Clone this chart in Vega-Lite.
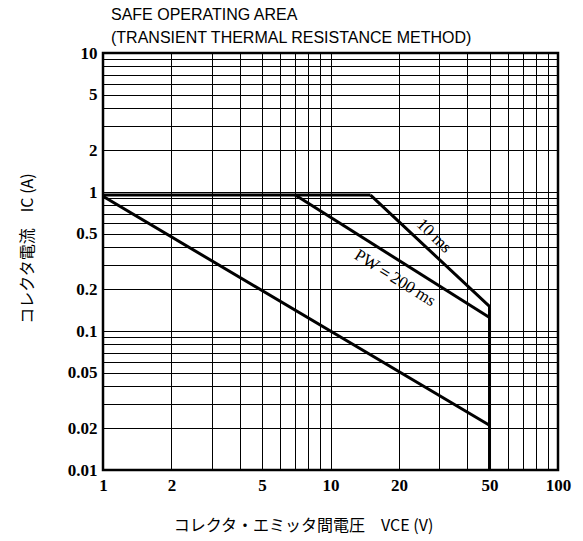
{
  "$schema": "https://vega.github.io/schema/vega-lite/v6.json",
  "autosize": {"type": "none"},
  "width": 455,
  "height": 417,
  "padding": {"left": 103, "top": 53, "right": 25, "bottom": 71},
  "background": "white",
  "config": {
    "view": {"stroke": "black", "strokeWidth": 2.5},
    "axis": {
      "grid": true,
      "gridColor": "black",
      "gridOpacity": 1,
      "gridWidth": 1,
      "ticks": false,
      "domain": false,
      "labelFont": "Liberation Serif",
      "labelFontWeight": "bold",
      "labelFontSize": 17,
      "labelColor": "black",
      "titleColor": "black",
      "titleFont": "Noto Sans CJK JP",
      "titleFontWeight": "normal",
      "titleFontSize": 16
    }
  },
  "title": {
    "text": ["SAFE OPERATING AREA", "(TRANSIENT THERMAL RESISTANCE METHOD)"],
    "anchor": "start",
    "frame": "group",
    "baseline": "bottom",
    "offset": 6,
    "dx": 8,
    "dy": 24,
    "font": "Liberation Sans",
    "fontSize": 16,
    "fontWeight": "normal",
    "lineHeight": 23,
    "color": "black"
  },
  "datasets": {
    "curves": [
      {"series": "DC", "i": 0, "vce": 1, "ic": 0.93},
      {"series": "DC", "i": 1, "vce": 50, "ic": 0.021},
      {"series": "flat", "i": 0, "vce": 1, "ic": 0.95},
      {"series": "flat", "i": 1, "vce": 15, "ic": 0.95},
      {"series": "200ms", "i": 0, "vce": 7, "ic": 0.95},
      {"series": "200ms", "i": 1, "vce": 50, "ic": 0.125},
      {"series": "10ms", "i": 0, "vce": 15, "ic": 0.95},
      {"series": "10ms", "i": 1, "vce": 50, "ic": 0.15},
      {"series": "10ms", "i": 2, "vce": 50, "ic": 0.01}
    ],
    "labels": [
      {"text": "10  ms", "vce": 28.5, "ic": 0.483, "angle": 44},
      {"text": "PW＝200  ms", "vce": 19.2, "ic": 0.24, "angle": 32}
    ]
  },
  "layer": [
    {
      "data": {"name": "curves"},
      "mark": {"type": "line", "color": "black", "strokeWidth": 3, "clip": true},
      "encoding": {
        "x": {
          "field": "vce", "type": "quantitative",
          "scale": {"type": "log", "domain": [1, 100], "nice": false},
          "axis": {
            "values": [1, 2, 3, 4, 5, 6, 7, 8, 9, 10, 20, 30, 40, 50, 60, 70, 80, 90, 100],
            "labelExpr": "indexof([1, 2, 5, 10, 20, 50, 100], datum.value) >= 0 ? datum.label : ''",
            "format": "~g",
            "labelPadding": 7,
            "labelFlush": false,
            "labelOverlap": false,
            "title": "コレクタ・エミッタ間電圧　VCE (V)",
            "titleX": 200,
            "titleY": 55,
            "titleBaseline": "middle",
            "titleAnchor": null
          }
        },
        "y": {
          "field": "ic", "type": "quantitative",
          "scale": {"type": "log", "domain": [0.01, 10], "nice": false},
          "axis": {
            "values": [0.01, 0.02, 0.03, 0.04, 0.05, 0.06, 0.07, 0.08, 0.09, 0.1, 0.2, 0.3, 0.4, 0.5, 0.6, 0.7, 0.8, 0.9, 1, 2, 3, 4, 5, 6, 7, 8, 9, 10],
            "labelExpr": "indexof([0.01, 0.02, 0.05, 0.1, 0.2, 0.5, 1, 2, 5, 10], datum.value) >= 0 ? datum.label : ''",
            "format": "~g",
            "labelPadding": 6,
            "labelFlush": false,
            "labelOverlap": false,
            "title": "コレクタ電流　IC (A)",
            "titleX": -76,
            "titleY": 195,
            "titleBaseline": "middle",
            "titleAngle": -90
          }
        },
        "detail": {"field": "series"},
        "order": {"field": "i", "type": "quantitative"}
      }
    },
    {
      "data": {"name": "labels"},
      "mark": {"type": "text", "font": "Liberation Serif", "fontSize": 17, "color": "black"},
      "encoding": {
        "x": {"field": "vce", "type": "quantitative", "scale": {"type": "log", "domain": [1, 100], "nice": false}},
        "y": {"field": "ic", "type": "quantitative", "scale": {"type": "log", "domain": [0.01, 10], "nice": false}},
        "text": {"field": "text"},
        "angle": {"field": "angle", "type": "quantitative", "scale": null}
      }
    }
  ]
}
